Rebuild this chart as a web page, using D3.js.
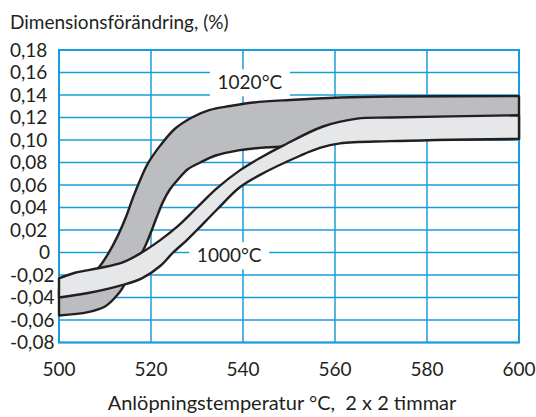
<!DOCTYPE html>
<html>
<head>
<meta charset="utf-8">
<script src="https://cdn.jsdelivr.net/npm/d3@7"></script>
<style>
  html, body { margin: 0; padding: 0; background: #fff; }
  svg { display: block; }
  text { font-family: Lato, "Open Sans", sans-serif; fill: #231f20; }
</style>
</head>
<body>
<script>
// Axis ticks and labels
const xTicks = [500, 520, 540, 560, 580, 600];
const xTickLabels = ["500", "520", "540", "560", "580", "600"];
const yTicks = [-0.08, -0.06, -0.04, -0.02, 0, 0.02, 0.04, 0.06, 0.08, 0.10, 0.12, 0.14, 0.16, 0.18];
const yTickLabels = ["-0,08", "-0,06", "-0,04", "-0,02", "0", "0,02", "0,04", "0,06", "0,08", "0,10", "0,12", "0,14", "0,16", "0,18"];

// 1020 °C hardening: upper and lower limits of the scatter band [temperature, change %]
const upper1020 = [
  [500, -0.033], [504.6, -0.027], [508.5, -0.014], [510.7, -0.001], [512.8, 0.015],
  [514.6, 0.032], [516.1, 0.049], [517.6, 0.064], [519.3, 0.079], [522.0, 0.095],
  [525.2, 0.110], [528.9, 0.120], [532.8, 0.1267], [537.2, 0.1302], [542.2, 0.1333],
  [550.2, 0.1356], [561.1, 0.1378], [572.0, 0.1387], [600, 0.139]
];
const lower1020 = [
  [500, -0.056], [506.3, -0.053], [510.0, -0.048], [512.2, -0.040], [513.9, -0.031],
  [515.4, -0.017], [518.3, 0.002], [519.8, 0.016], [521.3, 0.032], [522.6, 0.045],
  [524.1, 0.056], [525.9, 0.065], [528.0, 0.074], [530.7, 0.080], [533.9, 0.086],
  [539.3, 0.091], [543.7, 0.093], [548.0, 0.094], [552.4, 0.096], [561.1, 0.099],
  [572.0, 0.100], [600, 0.101]
];

// 1000 °C hardening: upper and lower limits of the scatter band
const upper1000 = [
  [500, -0.023], [503.5, -0.018], [508.5, -0.014], [513.7, -0.009], [517.6, -0.001],
  [522.0, 0.011], [525.7, 0.023], [530.0, 0.040], [534.3, 0.057], [539.3, 0.073],
  [543.7, 0.084], [548.7, 0.095], [557.4, 0.112], [564.8, 0.119], [572.0, 0.120],
  [600, 0.122]
];
const lower1000 = [
  [500, -0.040], [506.3, -0.036], [513.7, -0.029], [518.0, -0.023], [522.0, -0.012],
  [524.8, 0.000], [527.8, 0.011], [530.0, 0.020], [534.3, 0.038], [539.3, 0.058],
  [543.7, 0.069], [552.4, 0.086], [556.7, 0.093], [561.1, 0.097], [572.0, 0.099],
  [600, 0.101]
];

// Band labels: text and anchor point [temperature, change %]
const bandLabels = [
  { text: "1020°C", at: [541.5, 0.1513] },
  { text: "1000°C", at: [537, -0.0025] }
];

const yTitle = "Dimensionsförändring, (%)";
const xTitle = "Anlöpningstemperatur °C,  2 x 2 timmar";

const W = 536, H = 417;
const gridColor = "#1a9cdb";
const ink = "#231f20";

const svg = d3.select("body").append("svg")
  .attr("width", W).attr("height", H);

const x = d3.scaleLinear().domain([500, 600]).range([59, 519]);
const y = d3.scaleLinear().domain([-0.08, 0.18]).range([342.5, 50]);

// Grid
const grid = svg.append("g");
grid.selectAll("line.h").data(yTicks).join("line")
  .attr("x1", x(500)).attr("x2", x(600))
  .attr("y1", d => y(d)).attr("y2", d => y(d))
  .attr("stroke", gridColor).attr("stroke-width", 1.5);
grid.selectAll("line.v").data(xTicks).join("line")
  .attr("y1", y(-0.08)).attr("y2", y(0.18))
  .attr("x1", d => x(d)).attr("x2", d => x(d))
  .attr("stroke", gridColor).attr("stroke-width", 1.5);
grid.append("rect")
  .attr("x", x(500)).attr("y", y(0.18))
  .attr("width", x(600) - x(500)).attr("height", y(-0.08) - y(0.18))
  .attr("fill", "none").attr("stroke", gridColor).attr("stroke-width", 2);

// White knock-outs behind band labels
const labelG = svg.append("g");
bandLabels.forEach(l => {
  labelG.append("rect")
    .attr("x", x(l.at[0]) - 40).attr("y", y(l.at[1]) - 13)
    .attr("width", 80).attr("height", 27)
    .attr("fill", "#fff");
});

// Bands
const line = d3.line().x(d => x(d[0])).y(d => y(d[1])).curve(d3.curveCatmullRom.alpha(0.5));
function bandPath(up, low) {
  const a = line(up);
  const b = line(low.slice().reverse()).replace(/^M/, "L");
  return a + b + "Z";
}
svg.append("path")
  .attr("d", bandPath(upper1020, lower1020))
  .attr("fill", "#bcbdc0").attr("stroke", ink)
  .attr("stroke-width", 2.4).attr("stroke-linejoin", "round");
svg.append("path")
  .attr("d", bandPath(upper1000, lower1000))
  .attr("fill", "#e6e7e8").attr("stroke", ink)
  .attr("stroke-width", 2.4).attr("stroke-linejoin", "round");

// Band label text
bandLabels.forEach(l => {
  labelG.append("text")
    .attr("x", x(l.at[0])).attr("y", y(l.at[1]))
    .attr("dy", "0.36em")
    .attr("text-anchor", "middle")
    .attr("font-size", 19)
    .text(l.text);
});
svg.node().appendChild(labelG.node());

// Y tick labels
svg.append("g").selectAll("text").data(yTicks).join("text")
  .attr("x", d => d === 0 ? 39 : 10)
  .attr("y", d => y(d))
  .attr("dy", "0.36em")
  .attr("font-size", 19)
  .text((d, i) => yTickLabels[i]);

// X tick labels
svg.append("g").selectAll("text").data(xTicks).join("text")
  .attr("x", d => x(d))
  .attr("y", 369)
  .attr("dy", "0.36em")
  .attr("text-anchor", "middle")
  .attr("font-size", 19)
  .text((d, i) => xTickLabels[i]);

// Axis titles
svg.append("text")
  .attr("x", 10).attr("y", 29)
  .attr("font-size", 19)
  .text(yTitle);
svg.append("text")
  .attr("x", 282).attr("y", 410)
  .attr("text-anchor", "middle")
  .attr("font-size", 20)
  .style("white-space", "pre")
  .text(xTitle);
</script>
</body>
</html>
